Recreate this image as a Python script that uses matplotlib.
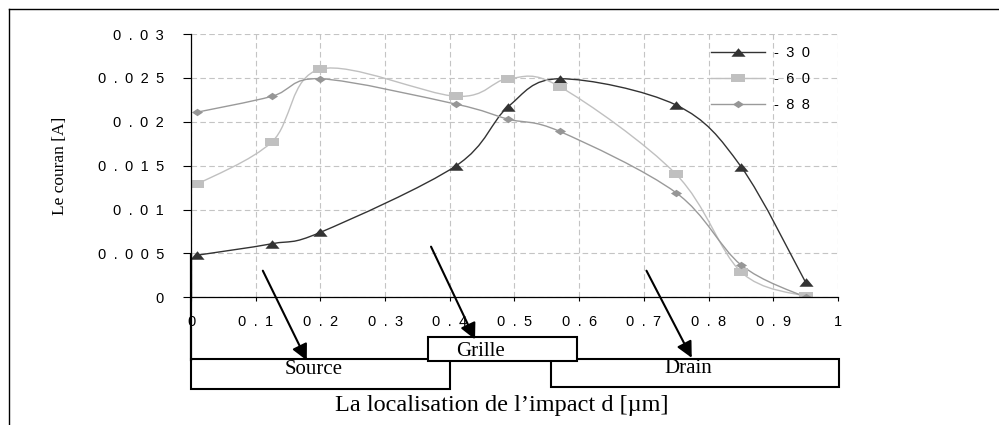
import matplotlib
matplotlib.use("Agg")
import matplotlib.pyplot as plt
from matplotlib.path import Path
from matplotlib.patches import PathPatch, Rectangle
from matplotlib.lines import Line2D

# impact position d [um]
impact_x = [0.01, 0.125, 0.2, 0.41, 0.49, 0.57, 0.75, 0.85, 0.95]
# current [A] for each bias
current_30 = [0.0048, 0.0061, 0.0074, 0.0150, 0.0217, 0.0249, 0.0219, 0.0149, 0.0017]
current_60 = [0.0129, 0.0177, 0.0260, 0.0229, 0.0249, 0.0240, 0.0140, 0.0029, 0.0001]
current_88 = [0.0211, 0.0229, 0.0249, 0.0220, 0.0203, 0.0189, 0.0119, 0.0037, 0.0000]
series_names = ["- 3 0", "- 6 0", "- 8 8"]

x_ticks = [0, 0.1, 0.2, 0.3, 0.4, 0.5, 0.6, 0.7, 0.8, 0.9, 1]
x_tick_labels = ["0", "0 . 1", "0 . 2", "0 . 3", "0 . 4", "0 . 5", "0 . 6", "0 . 7", "0 . 8", "0 . 9", "1"]
y_ticks = [0, 0.005, 0.01, 0.015, 0.02, 0.025, 0.03]
y_tick_labels = ["0", "0 . 0 0 5", "0 . 0 1", "0 . 0 1 5", "0 . 0 2", "0 . 0 2 5", "0 . 0 3"]

SANS = "Liberation Sans"
SERIF = "Liberation Serif"

# excel markers are squashed vertically
TRI = [(-1, -0.6), (1, -0.6), (0, 0.6)]
SQUARE = [(-1, -0.53), (1, -0.53), (1, 0.53), (-1, 0.53)]
DIAMOND = [(-1, 0), (0, 0.67), (1, 0), (0, -0.67)]


def spaced(s):
    # widen the gaps like the scanned excel labels
    return s.replace(" ", "\u2002")


def smooth_path(xs, ys):
    # catmull-rom style bezier, like excel "smoothed line"
    pts = list(zip(xs, ys))
    verts = [pts[0]]
    codes = [Path.MOVETO]
    n = len(pts)
    for i in range(n - 1):
        p0 = pts[max(i - 1, 0)]
        p1 = pts[i]
        p2 = pts[i + 1]
        p3 = pts[min(i + 2, n - 1)]
        c1 = (p1[0] + (p2[0] - p0[0]) / 6, p1[1] + (p2[1] - p0[1]) / 6)
        c2 = (p2[0] - (p3[0] - p1[0]) / 6, p2[1] - (p3[1] - p1[1]) / 6)
        verts += [c1, c2, p2]
        codes += [Path.CURVE4] * 3
    return Path(verts, codes)


def main():
    fig = plt.figure(figsize=(9.99, 4.25), dpi=100)
    ax = fig.add_axes([0.1912, 0.3005, 0.6476, 0.6195])

    series = [
        (current_30, "#333333", "#333333", TRI, 10.2),
        (current_60, "#c0c0c0", "#c0c0c0", SQUARE, 9.6),
        (current_88, "#9a9a9a", "#969696", DIAMOND, 8.0),
    ]
    handles = []
    for (ys, lc, mc, mk, ms), name in zip(series, series_names):
        ax.add_patch(PathPatch(smooth_path(impact_x, ys), facecolor="none", edgecolor=lc,
                               lw=1.0, zorder=3))
        ax.plot(impact_x, ys, linestyle="none", marker=mk, markersize=ms, color=mc,
                markeredgewidth=0, zorder=4)
        handles.append(Line2D([], [], color=lc, lw=1.0, marker=mk, markersize=ms,
                              markerfacecolor=mc, markeredgewidth=0, label=spaced(name)))

    ax.set_xlim(0, 1)
    ax.set_ylim(0, 0.03)
    ax.set_xticks(x_ticks)
    ax.set_xticklabels([spaced(t) for t in x_tick_labels], fontfamily=SANS, fontsize=10.5)
    ax.set_yticks(y_ticks)
    ax.set_yticklabels([spaced(t) for t in y_tick_labels], fontfamily=SANS, fontsize=10.5)
    ax.tick_params(axis="x", direction="out", length=3, width=0.8, pad=9.5, colors="black")
    ax.tick_params(axis="y", direction="out", length=6, width=0.8, pad=13.5, colors="black")

    ax.grid(True, color="#c4c4c4", linestyle=(0, (5, 3)), linewidth=0.8)
    ax.set_axisbelow(True)
    for side in ["top", "right"]:
        ax.spines[side].set_visible(False)
    for side in ["left", "bottom"]:
        ax.spines[side].set_linewidth(0.9)
        ax.spines[side].set_zorder(5)

    ax.legend(handles=handles, loc="upper left", bbox_to_anchor=(711 / 999, 1 - 46 / 425),
              bbox_transform=fig.transFigure, frameon=False, prop={"family": SANS, "size": 10.5},
              handlelength=3.7, handletextpad=0.6, labelspacing=0.82, borderpad=0,
              borderaxespad=0)

    # device regions under the axis
    box_kw = dict(transform=ax.transData, clip_on=False, facecolor="white",
                  edgecolor="black", lw=1.5)
    ax.add_patch(Rectangle((0, -0.0105), 0.4, 0.00343, zorder=6, **box_kw))
    ax.add_patch(Rectangle((0.557, -0.0102), 0.445, 0.00313, zorder=6, **box_kw))
    ax.add_patch(Rectangle((0.366, -0.00727), 0.230, 0.00277, zorder=7, **box_kw))
    ax.text(0.19, -0.0082, "Source", family=SERIF, fontsize=15, ha="center", va="center",
            zorder=8, clip_on=False)
    ax.text(0.769, -0.0081, "Drain", family=SERIF, fontsize=15, ha="center", va="center",
            zorder=8, clip_on=False)
    ax.text(0.448, -0.00615, "Grille", family=SERIF, fontsize=15, ha="center", va="center",
            zorder=8, clip_on=False)

    # thick line from first point down to the source box
    ax.plot([0, 0], [0.0048, -0.0071], color="black", lw=1.6, zorder=6, clip_on=False)

    arrows = [((0.111, 0.00303), (0.179, -0.0072)),
              ((0.371, 0.00577), (0.439, -0.0048)),
              ((0.704, 0.00303), (0.774, -0.0069))]
    for tail, head in arrows:
        ax.annotate("", xy=head, xytext=tail, annotation_clip=False, zorder=9,
                    arrowprops=dict(arrowstyle="-|>", color="black", lw=1.5,
                                    mutation_scale=24, shrinkA=0, shrinkB=0))

    fig.text(60 / 999, 1 - 166 / 425, "Le couran [A]", family=SERIF, fontsize=12.5,
             rotation=90, ha="center", va="center")
    fig.text(502 / 999, 1 - 405 / 425, "La localisation de l\u2019impact d [\u00b5m]",
             family=SERIF, fontsize=17.5, ha="center", va="center")

    # outer frame, only top and left edges visible
    fig.add_artist(Line2D([9 / 999, 9 / 999], [0, 1 - 9 / 425], color="black", lw=1.0,
                          transform=fig.transFigure))
    fig.add_artist(Line2D([9 / 999, 1], [1 - 9 / 425, 1 - 9 / 425], color="black", lw=1.0,
                          transform=fig.transFigure))

    fig.savefig("out.png", dpi=100, facecolor="white")


if __name__ == "__main__":
    main()
